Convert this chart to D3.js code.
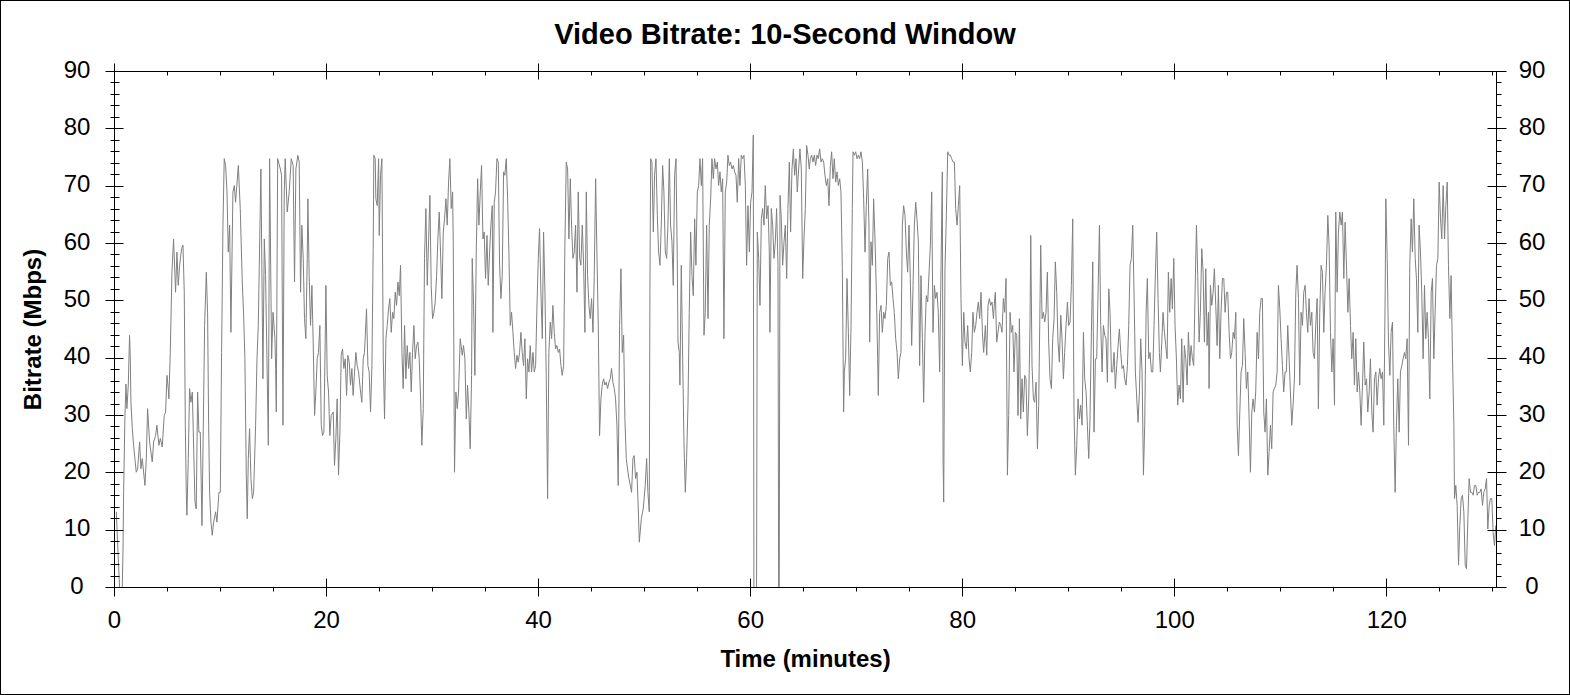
<!DOCTYPE html>
<html>
<head>
<meta charset="utf-8">
<script src="https://cdn.jsdelivr.net/npm/d3@7"></script>
<style>
  body { margin: 0; background: #fff; }
  text { font-family: "Liberation Sans", Arial, sans-serif; fill: #000; }
</style>
</head>
<body>
<div id="chart"></div>
<script>
// bitrate samples [minutes, Mbps]
var sec0to16 = [[0.17,13.2],[0.29,7.9],[0.48,0],[0.73,0],[0.8,6.2],[0.86,16.6],[0.98,29.4],[1.08,35.5],[1.17,31.2],[1.3,35.3],[1.42,44],[1.49,39.9],[1.55,32.3],[1.68,27.7],[1.8,24.8],[2.05,20.1],[2.18,20.7],[2.37,25.4],[2.49,20.7],[2.62,22.5],[2.87,17.8],[3.0,22.5],[3.12,31.2],[3.31,25.4],[3.56,21.9],[3.69,25.4],[3.88,26.5],[4.0,28.3],[4.19,24.8],[4.32,26],[4.5,24.5],[4.69,30],[4.82,30.6],[4.95,37],[5.07,34.7],[5.13,32.9],[5.26,41],[5.42,55],[5.57,60.8],[5.76,51.5],[5.89,58.5],[6.01,52.7],[6.14,56.2],[6.33,59.1],[6.46,59.7],[6.58,51.5],[6.68,28.3],[6.77,16.6],[6.83,12.6],[6.96,22.5],[7.08,34.7],[7.21,32.3],[7.34,34.1],[7.59,14.9],[7.71,13.7],[7.84,34.1],[7.96,27.1],[8.09,27.1],[8.25,10.8],[8.5,45.7],[8.66,55],[8.78,48],[8.88,28.3],[8.97,16.6],[9.1,11.4],[9.22,9.1],[9.35,11.4],[9.54,13.2],[9.66,11.4],[9.85,16.6],[9.98,16.6],[10.1,41],[10.23,63.2],[10.35,74.8],[10.48,73.6],[10.61,69],[10.73,58.5],[10.86,63.2],[10.98,44.5],[11.17,69],[11.3,70.1],[11.42,67.2],[11.68,73.6],[11.86,66.1],[12.05,53.3],[12.18,47.5],[12.3,39.9],[12.43,19.6],[12.52,12],[12.62,22.5],[12.74,27.7],[12.87,19],[13.0,15.5],[13.12,16.6],[13.31,28.3],[13.44,39.9],[13.56,45.7],[13.81,73],[14.0,36.4],[14.13,60.8],[14.25,54.4],[14.51,24.8],[14.63,74.8],[14.82,39.9],[14.95,48],[15.13,43.4],[15.2,38.2],[15.26,30.6],[15.39,74.8],[15.64,73],[15.76,71.9],[15.89,28.3],[16.01,69]];
var sec16to32 = [[16.1,74.8],[16.29,65.5],[16.48,69],[16.67,74.8],[16.85,73.6],[16.98,53.3],[17.11,73],[17.29,75.4],[17.42,74.2],[17.55,51.5],[17.67,63.2],[17.8,57.4],[17.92,46.9],[18.05,43.4],[18.18,57.4],[18.24,67.8],[18.36,54.4],[18.49,45.7],[18.62,52.7],[18.74,42.8],[18.87,30],[18.99,34.1],[19.12,39.9],[19.24,41],[19.37,45.7],[19.5,28.3],[19.62,26.5],[19.75,27.1],[19.87,42.8],[19.94,52.7],[20.06,37],[20.19,34.1],[20.31,26.5],[20.44,30],[20.63,30.6],[20.75,21.3],[20.88,26],[21.0,32.9],[21.13,19.6],[21.26,27.1],[21.38,40.5],[21.51,41.6],[21.63,38.2],[21.76,39.9],[21.89,33.5],[22.01,40.5],[22.14,39.3],[22.26,35.3],[22.39,38.2],[22.51,33.5],[22.64,37.6],[22.77,41],[22.89,38.7],[23.02,37.6],[23.21,34.1],[23.33,32.3],[23.46,39.9],[23.58,41],[23.77,48.6],[23.9,38.7],[24.02,37.6],[24.15,30.6],[24.28,38.7],[24.4,59.1],[24.46,75.4],[24.59,74.8],[24.65,67.8],[24.78,66.6],[24.91,74.8],[24.97,61.4],[25.09,71.9],[25.22,74.8],[25.35,39.9],[25.47,29.4],[25.6,43.4],[25.72,45.7],[25.85,48.6],[25.97,50.4],[26.1,44.5],[26.23,48],[26.35,46.9],[26.48,51.5],[26.6,49.2],[26.73,53.3],[26.86,50.9],[26.98,56.2],[27.11,41],[27.23,34.7],[27.36,45.7],[27.48,36.4],[27.61,42.2],[27.74,38.2],[27.86,41],[27.99,34.1],[28.11,41],[28.24,45.7],[28.36,39.9],[28.49,42.2],[28.62,42.8],[28.74,39.9],[28.87,32.9],[28.99,24.8],[29.12,31.2],[29.24,57.4],[29.37,66.1],[29.5,52.7],[29.62,60.3],[29.75,68.4],[29.87,52.7],[30.0,46.9],[30.13,48],[30.25,49.8],[30.38,54.4],[30.5,60.8],[30.63,65.5],[30.75,58.5],[30.88,50.4],[31.01,62],[31.13,64.3],[31.26,67.8],[31.38,63.2],[31.51,70.7],[31.63,74.8],[31.76,66.1],[31.89,69],[31.95,60.3],[32.07,20.1],[32.2,34.1],[32.33,31.2],[32.45,34.1]];
var sec32to49 = [[32.61,43.4],[32.8,40.5],[32.92,42.2],[33.05,39.9],[33.18,29.4],[33.3,35.3],[33.43,30.6],[33.55,24.2],[33.68,37],[33.74,57.4],[33.87,49.2],[33.99,37],[34.12,58.5],[34.25,71.3],[34.37,63.2],[34.5,69],[34.62,73.6],[34.75,60.8],[34.87,62],[35.0,53.9],[35.13,61.4],[35.25,52.7],[35.38,58.5],[35.5,63.2],[35.63,66.6],[35.69,44.5],[35.82,67.2],[35.94,69],[36.07,74.8],[36.2,74.2],[36.32,56.2],[36.45,50.4],[36.57,54.4],[36.7,72.5],[36.82,71.9],[36.95,74.8],[37.08,67.8],[37.2,58.5],[37.33,45.7],[37.45,48],[37.58,44.5],[37.7,41],[37.83,38.2],[37.96,40.5],[38.08,39.3],[38.21,41],[38.33,44.5],[38.46,41],[38.58,38.7],[38.71,43.4],[38.84,32.9],[38.96,39.9],[39.09,37.6],[39.21,42.2],[39.34,37.6],[39.47,41],[39.59,37.6],[39.72,38.7],[39.84,48.6],[39.97,57.4],[40.09,62.6],[40.22,51.5],[40.35,43.4],[40.47,62],[40.6,51.5],[40.72,37],[40.85,15.5],[40.97,41],[41.1,46.3],[41.23,43.4],[41.35,49.2],[41.48,44.5],[41.6,41.6],[41.73,42.2],[41.86,41],[41.98,41.6],[42.11,38.7],[42.23,37],[42.36,38.7],[42.48,59.7],[42.61,74.2],[42.74,73],[42.86,60.8],[42.99,71.3],[43.11,63.2],[43.24,57.4],[43.36,58.5],[43.49,63.2],[43.62,51.5],[43.74,69],[43.87,57.4],[43.99,56.2],[44.12,63.2],[44.25,56.2],[44.37,44.5],[44.5,69],[44.62,54.4],[44.75,49.2],[44.87,46.9],[45.0,50.4],[45.13,44.5],[45.25,54.4],[45.38,71.3],[45.5,58.5],[45.63,45.7],[45.75,26.5],[45.88,32.9],[46.0,35.3],[46.13,36.4],[46.26,35.3],[46.38,35.8],[46.51,34.7],[46.63,35.8],[46.76,36.4],[46.88,38.2],[47.01,35.8],[47.14,34.7],[47.26,32.9],[47.39,28.3],[47.51,17.8],[47.64,45.7],[47.77,55.6],[47.89,41],[48.02,44],[48.14,29.4],[48.27,22.5],[48.39,20.7],[48.52,19],[48.65,17.8],[48.77,16.6],[48.9,22.5],[49.02,23],[49.15,19],[49.28,20.1],[49.4,13.7]];
var sec49to65 = [[49.5,7.9],[49.69,12],[49.87,13.7],[50.06,17.8],[50.19,22.5],[50.31,16.6],[50.44,13.2],[50.5,51.5],[50.57,74.8],[50.69,74.2],[50.82,62],[50.94,71.9],[51.07,74.8],[51.2,64.9],[51.32,58.5],[51.45,56.2],[51.57,63.2],[51.7,73.6],[51.82,69],[51.95,58.5],[52.08,57.4],[52.2,63.2],[52.33,74.8],[52.45,63.2],[52.58,60.3],[52.7,52.7],[52.83,71.9],[52.96,74.8],[53.08,57.4],[53.15,42.8],[53.27,41],[53.33,35.3],[53.46,56.2],[53.59,39.9],[53.71,25.4],[53.84,16.6],[53.96,22.5],[54.09,31.8],[54.21,48],[54.34,62],[54.47,54.4],[54.59,50.9],[54.72,64.3],[54.84,56.2],[54.97,69],[55.1,70.1],[55.22,74.8],[55.35,70.1],[55.47,74.8],[55.6,44],[55.72,48],[55.85,63.2],[55.98,46.9],[56.1,63.2],[56.23,67.8],[56.35,74.8],[56.48,71.3],[56.6,74.8],[56.73,73],[56.86,74.2],[56.98,70.1],[57.11,72.5],[57.23,69],[57.36,71.3],[57.48,43.4],[57.61,69],[57.74,70.7],[57.86,75.4],[57.99,73.6],[58.11,74.2],[58.24,73],[58.37,73.6],[58.49,72.5],[58.62,71.9],[58.74,67.2],[58.87,74.8],[58.99,70.1],[59.12,75.4],[59.25,74.8],[59.37,75.4],[59.5,70.1],[59.62,56.2],[59.75,66.6],[59.88,58.5],[60.0,67.2],[60.13,69],[60.25,78.9],[60.31,0],[60.56,0],[60.63,62],[60.76,57.4],[60.88,49.2],[61.01,64.3],[61.13,66.1],[61.26,63.2],[61.38,70.1],[61.51,64.3],[61.64,66.6],[61.76,58.5],[61.82,44.5],[61.95,66.1],[62.08,63.2],[62.2,57.4],[62.33,60.3],[62.45,66.1],[62.58,56.2],[62.64,0],[62.7,0],[62.77,68.4],[62.89,64.3],[63.02,56.2],[63.15,60.3],[63.27,63.2],[63.4,53.9],[63.52,66.1],[63.65,74.2],[63.77,62],[63.9,73],[64.03,76.5],[64.15,71.9],[64.28,74.8],[64.4,69],[64.53,73],[64.65,76.5],[64.78,73],[64.91,53.9],[65.03,60.8],[65.16,66.1],[65.28,77.1],[65.41,75.4],[65.53,73]];
var sec65to82 = [[65.63,74.8],[65.76,75.4],[65.88,74.2],[66.01,75.4],[66.13,73.6],[66.26,75.4],[66.38,74.8],[66.51,76.5],[66.64,74.2],[66.76,74.8],[66.89,74.2],[67.01,71.9],[67.14,70.1],[67.27,71.3],[67.39,66.6],[67.52,73.6],[67.64,76],[67.77,71.3],[67.89,74.8],[68.02,70.7],[68.15,72.5],[68.27,70.1],[68.4,71.3],[68.52,69],[68.65,55.6],[68.77,30.6],[68.84,37.6],[68.96,39.9],[69.09,53.9],[69.22,44.5],[69.34,33.5],[69.47,45.7],[69.59,66.1],[69.66,76],[69.78,75.4],[69.91,76],[70.03,74.8],[70.16,75.4],[70.28,74.8],[70.41,76],[70.54,74.2],[70.66,67.8],[70.79,58.5],[70.91,66.6],[71.04,73],[71.16,63.2],[71.23,42.8],[71.35,60.3],[71.48,56.2],[71.6,67.8],[71.73,60.8],[71.86,51.5],[71.98,39.9],[72.04,33.5],[72.17,48],[72.3,49.2],[72.42,44.5],[72.55,48],[72.67,46.9],[72.8,49.2],[72.93,57.4],[73.05,58.5],[73.18,52.7],[73.3,53.3],[73.43,50.4],[73.55,48],[73.68,43.4],[73.81,41],[73.93,36.4],[74.06,39.9],[74.18,41],[74.31,63.2],[74.43,66.6],[74.56,64.9],[74.69,58.5],[74.81,55],[74.94,63.2],[75.06,53.9],[75.19,42.2],[75.32,52.7],[75.44,63.2],[75.57,67.2],[75.69,64.3],[75.82,60.3],[75.94,38.7],[76.07,54.4],[76.2,43.4],[76.32,32.3],[76.45,44.5],[76.57,50.9],[76.7,49.8],[76.83,55],[76.95,59.7],[77.08,69],[77.2,44.5],[77.33,52.7],[77.45,50.4],[77.58,51.5],[77.7,48],[77.83,37.6],[77.96,56.2],[78.08,72.5],[78.15,22.5],[78.21,14.9],[78.33,55.6],[78.46,64.9],[78.59,76],[78.71,75.4],[78.84,75.4],[78.96,74.8],[79.09,74.2],[79.22,74.2],[79.34,66.1],[79.47,63.2],[79.59,66.6],[79.72,70.1],[79.84,50.4],[79.97,38.7],[80.1,48],[80.22,42.8],[80.35,41.6],[80.47,45.7],[80.6,39.9],[80.72,37.6],[80.85,41],[80.97,48],[81.1,44.5],[81.23,45.7],[81.35,48],[81.48,49.8],[81.6,46.9],[81.73,51.5],[81.86,44.5],[81.98,41]];
var sec82to98 = [[82.14,45.7],[82.27,40.5],[82.39,49.2],[82.52,50.4],[82.64,49.2],[82.77,49.8],[82.9,46.9],[83.02,50.4],[83.08,51.5],[83.21,42.8],[83.33,44.5],[83.46,46.3],[83.59,45.7],[83.71,44.5],[83.84,50.4],[83.96,48],[84.09,53.9],[84.22,19.6],[84.34,30],[84.47,48],[84.59,44.5],[84.72,45.7],[84.84,37.6],[84.97,44.5],[85.1,44],[85.22,30],[85.35,46.9],[85.47,29.4],[85.6,36.4],[85.72,30.6],[85.85,37],[85.97,36.4],[86.1,26.5],[86.23,32.9],[86.35,45.7],[86.42,61.4],[86.54,38.7],[86.67,32.9],[86.79,32.3],[86.92,35.8],[87.05,24.2],[87.17,31.8],[87.3,50.4],[87.36,59.7],[87.49,46.9],[87.61,48],[87.74,46.3],[87.86,48],[87.99,55],[88.11,42.8],[88.24,36.4],[88.37,34.7],[88.49,43.4],[88.62,46.9],[88.74,56.8],[88.87,51.5],[88.99,42.8],[89.12,39.3],[89.25,47.5],[89.37,43.4],[89.5,36.4],[89.62,41],[89.75,45.7],[89.88,49.8],[90.0,45.7],[90.13,46.3],[90.25,52.7],[90.38,64.3],[90.5,30.6],[90.63,19.6],[90.76,24.8],[90.88,32.9],[91.01,29.4],[91.13,31.8],[91.26,28.3],[91.39,44.5],[91.51,36.4],[91.64,34.1],[91.76,28.3],[91.89,22.5],[92.01,29.4],[92.14,44.5],[92.27,56.8],[92.39,27.1],[92.52,39.9],[92.64,39.9],[92.77,51.5],[92.9,63.2],[93.02,45.7],[93.15,37.6],[93.27,45.7],[93.4,44],[93.52,43.4],[93.65,35.8],[93.78,52.1],[93.9,48],[94.03,37.6],[94.15,37.6],[94.28,41],[94.4,34.7],[94.53,38.7],[94.66,42.2],[94.78,45.1],[94.91,41],[95.03,38.2],[95.16,38.7],[95.28,36.4],[95.41,35.3],[95.54,38.7],[95.66,45.7],[95.79,56.2],[95.91,57.4],[96.04,63.2],[96.16,51.5],[96.29,37.6],[96.42,32.9],[96.54,28.8],[96.67,34.1],[96.79,43.4],[96.92,37.6],[97.05,19.6],[97.17,28.3],[97.3,48],[97.42,53.9],[97.55,39.9],[97.67,41],[97.8,37.6],[97.93,37.6],[98.05,45.7],[98.18,55],[98.3,62],[98.43,50.4],[98.55,41]];
var sec98to114 = [[98.65,37.6],[98.78,42.8],[98.9,48],[99.03,44.5],[99.15,42.2],[99.28,39.9],[99.4,55],[99.53,48],[99.66,53.9],[99.78,48.6],[99.91,57.4],[100.03,45.7],[100.16,39.9],[100.28,31.8],[100.41,35.3],[100.54,32.9],[100.66,43.4],[100.79,32.3],[100.91,42.2],[101.04,39.9],[101.17,35.3],[101.29,44.5],[101.42,38.7],[101.54,42.2],[101.67,39.9],[101.79,38.7],[101.92,51.5],[102.05,63.2],[102.17,54.4],[102.3,42.8],[102.42,48],[102.55,59.1],[102.68,55],[102.8,42.8],[102.93,55.6],[103.05,42.2],[103.18,48],[103.24,34.7],[103.37,52.7],[103.49,49.2],[103.62,51.5],[103.74,55.6],[103.87,49.2],[104.0,42.2],[104.12,52.7],[104.25,39.9],[104.37,48],[104.5,53.9],[104.63,53.9],[104.75,48],[104.88,51.5],[105.0,51.5],[105.13,44.5],[105.26,39.9],[105.38,41],[105.51,44.5],[105.63,43.4],[105.76,48],[105.89,28.3],[106.01,23],[106.14,30.6],[106.26,37.6],[106.39,38.7],[106.51,46.9],[106.64,41],[106.76,34.7],[106.89,37.6],[107.02,29.4],[107.14,20.1],[107.27,30.6],[107.39,32.9],[107.52,30.6],[107.64,34.1],[107.77,44.5],[107.9,39.9],[108.02,48],[108.15,50.4],[108.27,50.4],[108.4,30.6],[108.52,27.1],[108.65,32.9],[108.78,19.6],[108.9,23.6],[109.03,28.3],[109.15,24.2],[109.28,34.1],[109.4,34.7],[109.53,35.3],[109.66,37.6],[109.78,52.7],[109.91,48.6],[110.03,43.4],[110.16,38.7],[110.28,34.1],[110.41,37.6],[110.53,37.6],[110.66,45.7],[110.79,39.9],[110.91,34.1],[111.04,28.3],[111.16,31.8],[111.29,36.4],[111.42,51.5],[111.54,56.2],[111.67,50.4],[111.79,35.3],[111.92,48],[112.05,45.7],[112.17,51.5],[112.3,52.7],[112.42,48],[112.55,44.5],[112.67,50.4],[112.8,45.7],[112.93,48],[113.05,41],[113.18,39.9],[113.3,45.7],[113.43,50.4],[113.55,31.2],[113.68,48],[113.81,56.2],[113.93,55],[114.06,44.5],[114.18,51.5],[114.31,56.2],[114.44,64.9],[114.56,59.7]];
var sec114to130 = [[114.69,44.5],[114.82,37.6],[114.94,43.4],[115.07,31.8],[115.19,65.5],[115.32,51.5],[115.44,62],[115.57,65.5],[115.7,63.2],[115.82,65.5],[115.95,53.9],[116.07,63.7],[116.2,56.2],[116.33,48],[116.45,53.9],[116.58,45.7],[116.7,39.9],[116.83,44.5],[116.95,35.3],[117.08,43.4],[117.21,34.1],[117.33,37.6],[117.46,34.1],[117.58,28.3],[117.71,35.3],[117.83,42.8],[117.96,35.3],[118.09,36.4],[118.21,30.6],[118.34,34.1],[118.46,39.9],[118.59,30.6],[118.71,27.1],[118.84,36.4],[118.97,37.6],[119.09,31.8],[119.22,36.4],[119.34,38.2],[119.47,36.4],[119.6,37.6],[119.72,28.3],[119.85,51.5],[119.91,67.8],[120.04,57.4],[120.16,42.8],[120.29,37],[120.41,44.5],[120.54,46.3],[120.66,28.3],[120.79,16.6],[120.91,28.3],[121.04,36.4],[121.17,27.1],[121.29,37.6],[121.42,38.7],[121.54,39.9],[121.67,41],[121.79,39.9],[121.92,43.4],[122.05,24.8],[122.17,56.2],[122.3,64.3],[122.42,58.5],[122.55,67.8],[122.68,57.4],[122.8,53.9],[122.93,44.5],[123.05,63.2],[123.18,58.5],[123.3,51.5],[123.43,39.9],[123.56,52.7],[123.68,43.4],[123.81,48],[123.93,43.4],[124.06,32.9],[124.19,51.5],[124.31,53.9],[124.44,39.9],[124.56,48],[124.69,56.2],[124.82,57.4],[124.94,70.7],[125.07,64.3],[125.19,60.8],[125.32,70.1],[125.45,60.8],[125.57,66.6],[125.7,70.7],[125.82,56.2],[125.95,46.9],[126.07,54.4],[126.2,39.9],[126.33,28.3],[126.39,15.5],[126.51,17.8],[126.64,14.3],[126.77,3.9],[126.89,10.8],[127.02,15.5],[127.14,16.1],[127.27,13.2],[127.4,3.9],[127.52,3.3],[127.65,12],[127.77,19],[127.9,16.6],[128.02,16.6],[128.15,16.1],[128.27,17.8],[128.4,17.8],[128.53,16.1],[128.65,16.6],[128.78,16.6],[128.9,17.2],[129.03,14.3],[129.15,16.6],[129.28,17.2],[129.41,19],[129.53,10.2],[129.66,14.3],[129.78,15.5],[129.91,15.5],[130.03,9.6],[130.16,7.3],[130.28,10.8]];

var yMajor = [0, 10, 20, 30, 40, 50, 60, 70, 80, 90];
var xMajor = [0, 20, 40, 60, 80, 100, 120];
var xMax = 130.35;

var svgWidth = 1570;
var svgHeight = 695;

var svg = d3.select("#chart")
  .append("svg")
  .attr("width", svgWidth)
  .attr("height", svgHeight);

// outer frame
svg.append("rect")
  .attr("x", 0.5).attr("y", 0.5)
  .attr("width", svgWidth - 1).attr("height", svgHeight - 1)
  .attr("fill", "#fff").attr("stroke", "#000");

// plot box edges
var plotLeft = 114.5, plotRight = 1496.5, plotTop = 71.5, plotBottom = 587.5;

var x = d3.scaleLinear().domain([0, xMax]).range([plotLeft, plotRight]);
var y = d3.scaleLinear().domain([0, 90]).range([plotBottom, plotTop]);

var data = [].concat(sec0to16, sec16to32, sec32to49, sec49to65,
  sec65to82, sec82to98, sec98to114, sec114to130);

var line = d3.line()
  .x(d => x(d[0]))
  .y(d => y(d[1]));

svg.append("path")
  .datum(data)
  .attr("fill", "none")
  .attr("stroke", "#808080")
  .attr("stroke-width", 1)
  .attr("d", line);

svg.append("rect")
  .attr("x", plotLeft).attr("y", plotTop)
  .attr("width", plotRight - plotLeft).attr("height", plotBottom - plotTop)
  .attr("fill", "none").attr("stroke", "#000");

var ticks = svg.append("g").attr("stroke", "#000").attr("stroke-width", 1);

// y ticks, left and right
var yMinor = d3.range(0, 91, 2).filter(d => d % 10 !== 0);
function yTicks(vals, x1, x2) {
  ticks.append("g").selectAll("line")
    .data(vals).enter().append("line")
    .attr("x1", x1).attr("x2", x2)
    .attr("y1", d => Math.round(y(d) - 0.5) + 0.5)
    .attr("y2", d => Math.round(y(d) - 0.5) + 0.5);
}
yTicks(yMajor, plotLeft - 9, plotLeft + 9);
yTicks(yMinor, plotLeft - 4, plotLeft + 5);
yTicks(yMajor, plotRight - 9, plotRight + 10);
yTicks(yMinor, plotRight, plotRight + 5);

// x ticks, bottom and top
var xMinor = d3.range(0, 131, 5).filter(d => d % 20 !== 0);
function xTicks(vals, y1, y2) {
  ticks.append("g").selectAll("line")
    .data(vals).enter().append("line")
    .attr("y1", y1).attr("y2", y2)
    .attr("x1", d => Math.round(x(d) - 0.5) + 0.5)
    .attr("x2", d => Math.round(x(d) - 0.5) + 0.5);
}
xTicks(xMajor, plotBottom - 9, plotBottom + 9);
xTicks(xMinor, plotBottom, plotBottom + 4);
xTicks(xMajor, plotTop - 8, plotTop + 8);
xTicks(xMinor, plotTop, plotTop + 4);

// tick labels
svg.append("g").selectAll("text")
  .data(yMajor).enter().append("text")
  .attr("x", 77).attr("y", d => y(d) + 6)
  .attr("text-anchor", "middle")
  .style("font-size", "24px")
  .text(d => d);

svg.append("g").selectAll("text")
  .data(yMajor).enter().append("text")
  .attr("x", 1532).attr("y", d => y(d) + 6)
  .attr("text-anchor", "middle")
  .style("font-size", "24px")
  .text(d => d);

svg.append("g").selectAll("text")
  .data(xMajor).enter().append("text")
  .attr("x", d => x(d)).attr("y", 627.5)
  .attr("text-anchor", "middle")
  .style("font-size", "24px")
  .text(d => d);

// titles
svg.append("text")
  .attr("x", 785).attr("y", 43.5)
  .attr("text-anchor", "middle")
  .style("font-size", "29px").style("font-weight", "bold")
  .text("Video Bitrate: 10-Second Window");

svg.append("text")
  .attr("x", (plotLeft + plotRight) / 2).attr("y", 667)
  .attr("text-anchor", "middle")
  .style("font-size", "24px").style("font-weight", "bold")
  .text("Time (minutes)");

svg.append("text")
  .attr("transform", `translate(40.5, ${(plotTop + plotBottom) / 2}) rotate(-90)`)
  .attr("text-anchor", "middle")
  .style("font-size", "24px").style("font-weight", "bold")
  .text("Bitrate (Mbps)");
</script>
</body>
</html>
